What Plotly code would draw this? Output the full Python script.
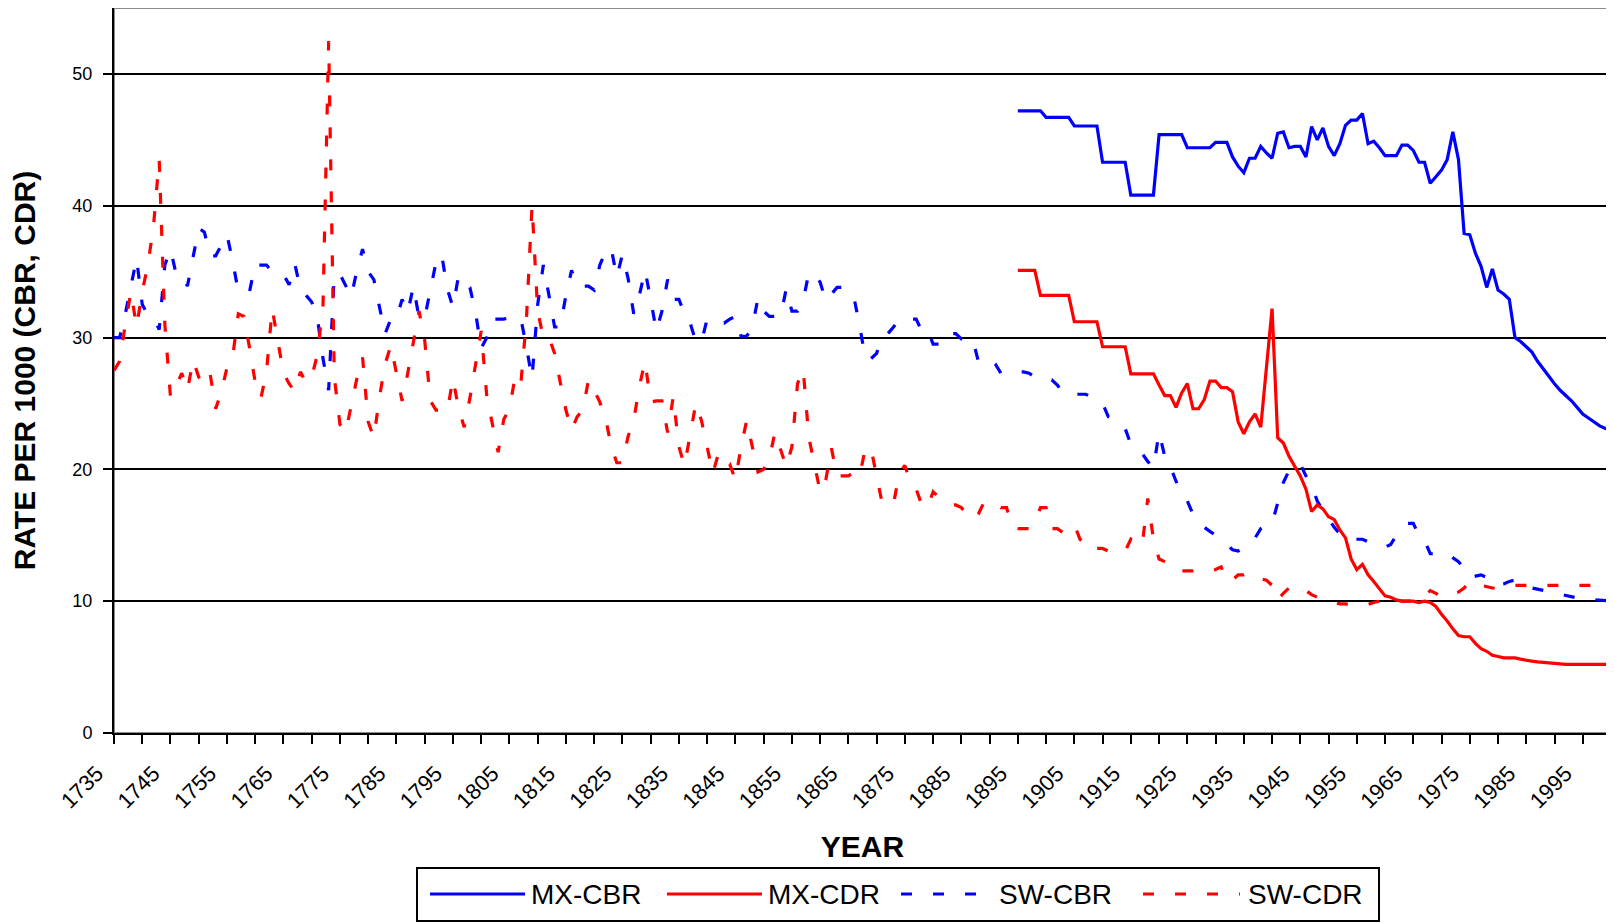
import plotly.graph_objects as go

# ---------------------------------------------------------------- data
# Sweden, crude birth / death rate per 1000, 1735-2000 (one row = one decade)
years_sw = list(range(1735, 2001))
sw_cbr = [
    30.0, 30.0, 31.8, 34.0, 36.0, 32.5, 31.7, 31.5, 30.6, 35.5,   # 1735
    36.7, 34.8, 34.8, 33.9, 36.2, 38.3, 38.0, 36.2, 36.2, 37.0,   # 1745
    37.8, 35.8, 33.5, 33.5, 33.5, 35.6, 35.5, 35.5, 35.0, 34.8,   # 1755
    34.8, 34.0, 35.6, 33.7, 33.2, 32.7, 31.5, 28.4, 26.0, 34.8,   # 1765
    34.8, 34.0, 33.1, 35.1, 36.7, 35.0, 34.4, 32.3, 30.3, 31.4,   # 1775
    31.4, 32.9, 31.9, 33.9, 31.5, 31.5, 33.6, 35.7, 36.3, 33.7,   # 1785
    32.3, 34.7, 34.2, 33.8, 31.9, 29.2, 30.0, 31.4, 31.4, 31.4,   # 1795
    31.5, 31.5, 31.5, 29.3, 26.9, 32.5, 35.5, 33.2, 30.8, 30.8,   # 1805
    33.2, 35.1, 33.9, 33.9, 33.9, 33.6, 35.5, 36.5, 36.8, 34.6,   # 1815
    36.3, 34.5, 31.8, 33.2, 35.1, 32.9, 30.5, 32.0, 34.4, 32.9,   # 1825
    32.9, 31.8, 31.1, 29.7, 29.7, 31.4, 31.2, 31.1, 31.1, 31.4,   # 1835
    31.6, 30.1, 30.1, 30.8, 33.0, 32.0, 31.6, 31.6, 31.6, 33.7,   # 1845
    32.0, 32.0, 32.8, 34.9, 34.8, 34.2, 32.8, 33.3, 33.8, 33.8,   # 1855
    33.2, 33.0, 30.9, 28.4, 28.4, 28.8, 30.1, 30.3, 30.8, 31.4,   # 1865
    31.4, 31.4, 31.4, 30.5, 30.6, 29.5, 29.5, 29.5, 30.3, 30.3,   # 1875
    29.9, 29.9, 29.9, 28.2, 28.2, 28.4, 28.0, 27.3, 27.3, 27.4,   # 1885
    27.4, 27.4, 27.3, 27.0, 26.8, 26.8, 26.8, 26.4, 25.8, 25.8,   # 1895
    25.7, 25.7, 25.7, 25.5, 25.2, 25.0, 24.0, 23.8, 23.3, 23.1,   # 1905
    21.9, 21.5, 21.2, 20.6, 20.1, 22.8, 21.0, 20.2, 19.1, 18.2,   # 1915
    17.6, 16.6, 16.1, 15.6, 15.3, 15.0, 14.7, 14.3, 13.9, 13.8,   # 1925
    14.1, 14.3, 14.8, 15.5, 15.8, 15.9, 17.5, 19.0, 19.9, 20.4,   # 1935
    20.4, 19.5, 18.8, 17.6, 16.9, 16.2, 15.6, 15.1, 14.7, 14.7,   # 1945
    14.7, 14.7, 14.5, 14.3, 14.2, 14.1, 14.3, 15.0, 15.5, 15.9,   # 1955
    15.9, 15.0, 14.6, 13.6, 13.6, 13.7, 13.6, 13.3, 13.0, 12.5,   # 1965
    11.8, 11.9, 12.0, 11.8, 11.5, 11.2, 11.3, 11.5, 11.6, 11.3,   # 1975
    11.1, 11.0, 10.9, 10.8, 10.7, 10.6, 10.5, 10.4, 10.35, 10.25,  # 1985
    10.2, 10.15, 10.1, 10.05, 10.0, 10.0,                         # 1995
]
sw_cdr = [
    27.5, 28.2, 31.0, 33.5, 30.8, 33.5, 35.5, 38.5, 43.5, 31.0,   # 1735
    25.5, 26.3, 27.3, 26.0, 28.3, 27.0, 26.5, 27.3, 24.6, 25.9,   # 1745
    27.7, 28.5, 31.8, 31.6, 29.2, 26.6, 25.4, 27.4, 32.2, 29.8,   # 1755
    27.3, 26.5, 25.9, 27.4, 26.6, 27.0, 28.7, 32.5, 52.5, 27.0,   # 1765
    23.4, 22.8, 24.9, 26.9, 28.5, 23.6, 22.4, 25.5, 28.0, 29.4,   # 1775
    27.3, 25.2, 27.3, 29.8, 32.0, 29.8, 25.2, 24.5, 24.5, 24.4,   # 1785
    26.9, 24.6, 23.2, 25.4, 27.8, 30.5, 25.5, 23.5, 21.3, 23.8,   # 1795
    24.6, 27.0, 26.4, 31.3, 40.0, 32.0, 30.0, 30.0, 28.8, 26.6,   # 1805
    24.5, 23.0, 24.0, 24.5, 26.8, 26.0, 25.1, 23.9, 21.8, 20.5,   # 1815
    20.5, 22.5, 23.7, 26.3, 28.2, 25.1, 25.2, 25.2, 22.8, 25.5,   # 1825
    21.7, 20.3, 22.6, 25.0, 23.7, 21.8, 19.7, 21.2, 20.4, 20.4,   # 1835
    19.2, 21.7, 23.7, 21.7, 19.8, 20.0, 20.8, 22.8, 21.5, 20.2,   # 1845
    21.7, 26.5, 27.6, 22.4, 20.4, 18.3, 19.2, 21.6, 19.5, 19.5,   # 1855
    19.5, 19.8, 19.5, 21.6, 21.6, 19.5, 17.4, 17.4, 17.4, 19.7,   # 1865
    20.3, 19.0, 18.5, 17.3, 17.1, 18.3, 17.9, 17.5, 17.3, 17.3,   # 1875
    17.1, 16.6, 16.2, 16.6, 17.5, 17.5, 17.5, 17.1, 17.1, 15.6,   # 1885
    15.5, 15.5, 15.5, 16.0, 17.1, 17.1, 15.5, 15.5, 15.2, 15.5,   # 1895
    15.8, 14.7, 14.3, 14.5, 14.0, 14.0, 13.8, 13.8, 13.8, 13.8,   # 1905
    14.7, 14.4, 14.2, 17.8, 14.7, 13.2, 13.0, 12.8, 12.3, 12.3,   # 1915
    12.3, 12.3, 12.4, 12.3, 12.3, 12.4, 12.6, 11.5, 11.6, 12.0,   # 1925
    12.0, 12.2, 12.0, 11.7, 11.6, 11.2, 10.1, 10.6, 11.0, 11.2,   # 1935
    11.0, 10.8, 10.5, 10.3, 10.1, 10.0, 9.9, 9.8, 9.8, 9.7,       # 1945
    9.7, 9.7, 9.75, 9.9, 10.0, 10.1, 10.1, 10.1, 10.0, 10.0,      # 1955
    9.95, 10.0, 10.4, 10.8, 10.6, 10.3, 10.4, 10.6, 10.7, 11.0,   # 1965
    11.5, 11.3, 11.2, 11.1, 11.0, 11.0, 11.1, 11.2, 11.2, 11.2,   # 1975
    11.2, 11.2, 11.2, 11.2, 11.2, 11.15, 11.15, 11.15, 11.15, 11.15,  # 1985
    11.15, 11.15, 11.2, 11.2, 11.2, 11.2,                         # 1995
]

# Mexico, crude birth / death rate per 1000, 1895-2000
years_mx = list(range(1895, 2001))
mx_cbr = [
    47.2, 47.2, 47.2, 47.2, 47.2, 46.7, 46.7, 46.7, 46.7, 46.7,   # 1895
    46.05, 46.05, 46.05, 46.05, 46.05, 43.3, 43.3, 43.3, 43.3, 43.3,  # 1905
    40.8, 40.8, 40.8, 40.8, 40.8, 45.4, 45.4, 45.4, 45.4, 45.4,   # 1915
    44.4, 44.4, 44.4, 44.4, 44.4, 44.8, 44.8, 44.8, 43.7, 43.0,   # 1925
    42.5, 43.6, 43.6, 44.5, 44.0, 43.6, 45.5, 45.6, 44.4, 44.5,   # 1935
    44.5, 43.7, 46.0, 45.0, 45.9, 44.5, 43.8, 44.7, 46.1, 46.5,   # 1945
    46.5, 47.0, 44.7, 44.9, 44.4, 43.8, 43.8, 43.8, 44.6, 44.6,   # 1955
    44.2, 43.3, 43.3, 41.7, 42.2, 42.7, 43.5, 45.6, 43.5, 37.9,   # 1965
    37.8, 36.4, 35.4, 33.8, 35.2, 33.6, 33.3, 32.9, 30.0, 29.7,   # 1975
    29.3, 28.9, 28.2, 27.6, 27.0, 26.5, 26.0, 25.6, 25.2, 24.7,   # 1985
    24.2, 23.9, 23.6, 23.3, 23.1, 23.0,                           # 1995
]
mx_cdr = [
    35.1, 35.1, 35.1, 35.1, 33.2, 33.2, 33.2, 33.2, 33.2, 33.2,   # 1895
    31.2, 31.2, 31.2, 31.2, 31.2, 29.3, 29.3, 29.3, 29.3, 29.3,   # 1905
    27.25, 27.25, 27.25, 27.25, 27.25, 26.4, 25.6, 25.6, 24.7, 25.8,  # 1915
    26.5, 24.6, 24.6, 25.3, 26.7, 26.7, 26.2, 26.2, 25.9, 23.6,   # 1925
    22.7, 23.6, 24.2, 23.2, 27.6, 32.2, 22.4, 22.0, 21.0, 20.2,   # 1935
    19.5, 18.5, 16.8, 17.3, 17.0, 16.4, 16.2, 15.4, 14.8, 13.2,   # 1945
    12.4, 12.8, 12.0, 11.5, 10.9, 10.4, 10.3, 10.1, 10.0, 10.0,   # 1955
    10.0, 9.9, 10.0, 9.9, 9.6, 9.0, 8.5, 7.9, 7.4, 7.3,           # 1965
    7.3, 6.8, 6.4, 6.2, 5.9, 5.8, 5.7, 5.7, 5.7, 5.6,             # 1975
    5.5, 5.45, 5.4, 5.35, 5.3, 5.3, 5.25, 5.2, 5.2, 5.2,          # 1985
    5.2, 5.2, 5.2, 5.2, 5.2, 5.2,                                 # 1995
]

tick_labels = ["1735", "1745", "1755", "1765", "1775", "1785", "1795",
               "1805", "1815", "1825", "1835", "1845", "1855", "1865",
               "1875", "1885", "1895", "1905", "1915", "1925", "1935",
               "1945", "1955", "1965", "1975", "1985", "1995"]
y_ticks = [0, 10, 20, 30, 40, 50]

assert len(sw_cbr) == len(years_sw) and len(sw_cdr) == len(years_sw)
assert len(mx_cbr) == len(years_mx) and len(mx_cdr) == len(years_mx)

# ---------------------------------------------------------------- style
FONT = "Liberation Sans, Arial, sans-serif"
BLUE = "#0000FF"
RED = "#FF0000"
DASH = "11px,21px"

BODY = 8                               # default page margin around the plot div
W, H = 1614 - BODY, 923 - BODY
L, R, T, B = 106, 3, 0, 190            # plot area margins in px
PW, PH = W - L - R, H - T - B


def px_x(x):
    """page x pixel -> paper coordinate"""
    return (x - BODY - L) / PW


def px_y(y):
    """page y pixel -> paper coordinate"""
    return (H - B - (y - BODY)) / PH


series = [
    ("SW-CBR", years_sw, sw_cbr, BLUE, DASH),
    ("SW-CDR", years_sw, sw_cdr, RED, DASH),
    ("MX-CBR", years_mx, mx_cbr, BLUE, "solid"),
    ("MX-CDR", years_mx, mx_cdr, RED, "solid"),
]

fig = go.Figure()
for name, xs, ys, color, dash in series:
    fig.add_trace(go.Scatter(
        x=xs, y=ys, mode="lines", name=name, showlegend=False,
        line=dict(color=color, width=3.2, dash=dash),
    ))

fig.update_layout(
    template="none",
    width=W, height=H,
    margin=dict(l=L, r=R, t=T, b=B, pad=0),
    paper_bgcolor="white", plot_bgcolor="white",
    font=dict(family=FONT, color="black"),
    xaxis=dict(
        range=[1735, 2000],
        tickmode="array",
        tickvals=[int(t) for t in tick_labels],
        ticktext=tick_labels,
        tickangle=-45,
        tickfont=dict(size=22, family=FONT, color="black"),
        ticklabelshift=-17, ticklabelstandoff=8,
        ticks="outside", ticklen=9, tickwidth=2, tickcolor="black",
        minor=dict(dtick=5, tick0=1735, ticks="outside", ticklen=9,
                   tickwidth=2, tickcolor="black", showgrid=False),
        showline=True, linecolor="black", linewidth=2,
        showgrid=False, zeroline=False, automargin=False,
        title=dict(text="YEAR", standoff=24,
                   font=dict(size=30, family=FONT, color="black", weight="bold")),
    ),
    yaxis=dict(
        range=[0, 55],
        tickmode="array", tickvals=y_ticks,
        tickfont=dict(size=18, family=FONT, color="black"),
        ticks="outside", ticklen=9, tickwidth=2, tickcolor="black",
        ticklabelstandoff=7,
        showline=True, linecolor="black", linewidth=2,
        showgrid=True, gridcolor="black", gridwidth=2,
        zeroline=False, automargin=False,
        title=dict(text="RATE PER 1000 (CBR, CDR)", standoff=45,
                   font=dict(size=30, family=FONT, color="black", weight="bold")),
    ),
)

# grey frame on the top / right of the plot area
fig.add_shape(type="rect", xref="paper", yref="paper", x0=0, x1=1, y0=0, y1=1,
              line=dict(color="#8c8c8c", width=2), layer="below")

# legend box drawn like the original (long line samples)
fig.add_shape(type="rect", xref="paper", yref="paper",
              x0=px_x(417), x1=px_x(1379), y0=px_y(921), y1=px_y(868),
              line=dict(color="black", width=2), fillcolor="white")
legend_pos = {"MX-CBR": (430, 525, 529), "MX-CDR": (667, 762, 766),
              "SW-CBR": (901, 993, 997), "SW-CDR": (1143, 1240, 1246)}
ly = px_y(894)
for name, xs, ys, color, dash in series:
    x0, x1, xt = legend_pos[name]
    fig.add_shape(type="line", xref="paper", yref="paper",
                  x0=px_x(x0), x1=px_x(x1), y0=ly, y1=ly,
                  line=dict(color=color, width=3, dash=dash))
    fig.add_annotation(x=px_x(xt), y=ly, xref="paper", yref="paper",
                       text=name, showarrow=False, xanchor="left", yanchor="middle",
                       font=dict(size=28, family=FONT, color="black"))

fig.write_html("out.html")
